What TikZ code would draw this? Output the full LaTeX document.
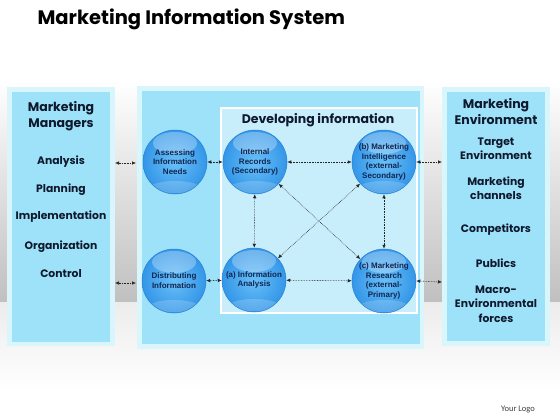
\documentclass[tikz,border=0pt]{standalone}
\usepackage{fontspec}
\setmainfont{Liberation Sans}
\newfontfamily\geo{Poppins}[BoldFont={Poppins Bold}]
\newfontfamily\carl{Carlito}
\usetikzlibrary{arrows.meta,calc}
\definecolor{panelblue}{RGB}{158,226,250}
\definecolor{glowblue}{RGB}{218,246,253}
\definecolor{devfill}{RGB}{200,238,252}
\definecolor{navy}{RGB}{15,25,45}
\definecolor{circtext}{RGB}{18,38,78}
\definecolor{sphin}{RGB}{105,192,248}
\definecolor{sphout}{RGB}{52,150,232}
\definecolor{sphedge}{RGB}{40,130,210}
\definecolor{bandgray}{RGB}{192,192,192}
\definecolor{floorgray}{RGB}{236,236,236}
\tikzset{
  sphere/.style={circle, minimum size=64pt, inner sep=0pt, draw=sphedge, line width=0.5pt,
    inner color=sphin, outer color=sphout, text=circtext, align=center,
    font=\fontsize{8}{9.8}\selectfont\bfseries,
    path picture={
      \fill[white,opacity=0.28] ($(path picture bounding box.north)+(0,13)$) ellipse (22pt and 11pt);
      \fill[white,opacity=0.18] ($(path picture bounding box.south)+(0,-7)$) ellipse (24pt and 6pt);
    }},
  conn/.style={densely dotted, line width=0.6pt, draw=black!85,
    {Latex[length=4pt,width=3.6pt]}-{Latex[length=4pt,width=3.6pt]}},
  head/.style={text=navy, align=center, font=\geo\bfseries\fontsize{12.5}{16}\selectfont},
  item/.style={text=navy, align=center, font=\geo\bfseries\fontsize{10.8}{14.5}\selectfont},
}
\begin{document}
\begin{tikzpicture}[x=1pt,y=-1pt]
\useasboundingbox (0,0) rectangle (560,420);
\fill[white] (0,0) rectangle (560,420);
\shade[top color=white, bottom color=bandgray] (0,80) rectangle (560,302);
\shade[top color=floorgray, bottom color=white] (0,302) rectangle (560,390);

% title
\node[anchor=base west, text=black, font=\geo\bfseries\fontsize{19.5}{22}\selectfont] (title) at (34,25) {Marketing Information System};

% panels
\fill[glowblue] (7,87) rectangle (115,346);
\fill[panelblue] (12,92) rectangle (110,342);
\fill[glowblue] (137,86) rectangle (424,349);
\fill[panelblue] (142,91) rectangle (420,344);
\fill[glowblue] (442,87) rectangle (550,346);
\fill[panelblue] (447,92) rectangle (545,341);
\draw[white, line width=1.8pt, fill=devfill] (221,108) rectangle (417,313);

% left panel text
\node[head] (mm) at (61,116) {Marketing\\Managers};
\node[item] (an) at (61,162) {Analysis};
\node[item] (pl) at (61,190) {Planning};
\node[item] (im) at (61,217) {Implementation};
\node[item] (or) at (61,247) {Organization};
\node[item] (co) at (61,274) {Control};

% right panel text
\node[head] (me) at (496,112) {Marketing\\Environment};
\node[item] (te) at (496,149) {Target\\Environment};
\node[item] (mc) at (496,188) {Marketing\\channels};
\node[item] (cp) at (496,230) {Competitors};
\node[item] (pu) at (496,263) {Publics};
\node[item] (mf) at (496,304) {Macro-\\Environmental\\forces};

% middle
\node[text=navy, font=\geo\bfseries\fontsize{12.5}{14}\selectfont] (dev) at (318,120) {Developing information};

\node[sphere] (A) at (175,162) {Assessing\\Information\\Needs};
\node[sphere] (IR) at (255,162) {Internal\\Records\\(Secondary)};
\node[sphere] (MI) at (384,162) {(b) Marketing\\Intelligence\\(external-\\Secondary)};
\node[sphere] (D) at (174,281) {Distributing\\Information};
\node[sphere] (IA) at (254,280) {(a) Information\\Analysis};
\node[sphere] (MR) at (384,281) {(c) Marketing\\Research\\(external-\\Primary)};

% free ends
\coordinate (l1) at (115,163);
\coordinate (l1b) at (136,163);
\coordinate (l2) at (115,283);
\coordinate (l2b) at (136,283);
\coordinate (r1) at (442,162);
\coordinate (r2) at (442,282);

\draw[conn] (l1) -- (l1b);
\draw[conn] (l2) -- (l2b);
\draw[conn] (A) -- (IR);
\draw[conn] (IR) -- (MI);
\draw[conn] (D) -- (IA);
\draw[conn] (IA) -- (MR);
\draw[conn] (IR) -- (IA);
\draw[conn] (MI) -- (MR);
\draw[conn] (IR) -- (MR);
\draw[conn] (MI) -- (IA);
\draw[conn] (MI.east) -- (r1);
\draw[conn] (MR.east) -- (r2);

\node[text=black!75, font=\carl\fontsize{8.5}{10}\selectfont] (logo) at (518,410) {Your Logo};
\end{tikzpicture}
\end{document}
